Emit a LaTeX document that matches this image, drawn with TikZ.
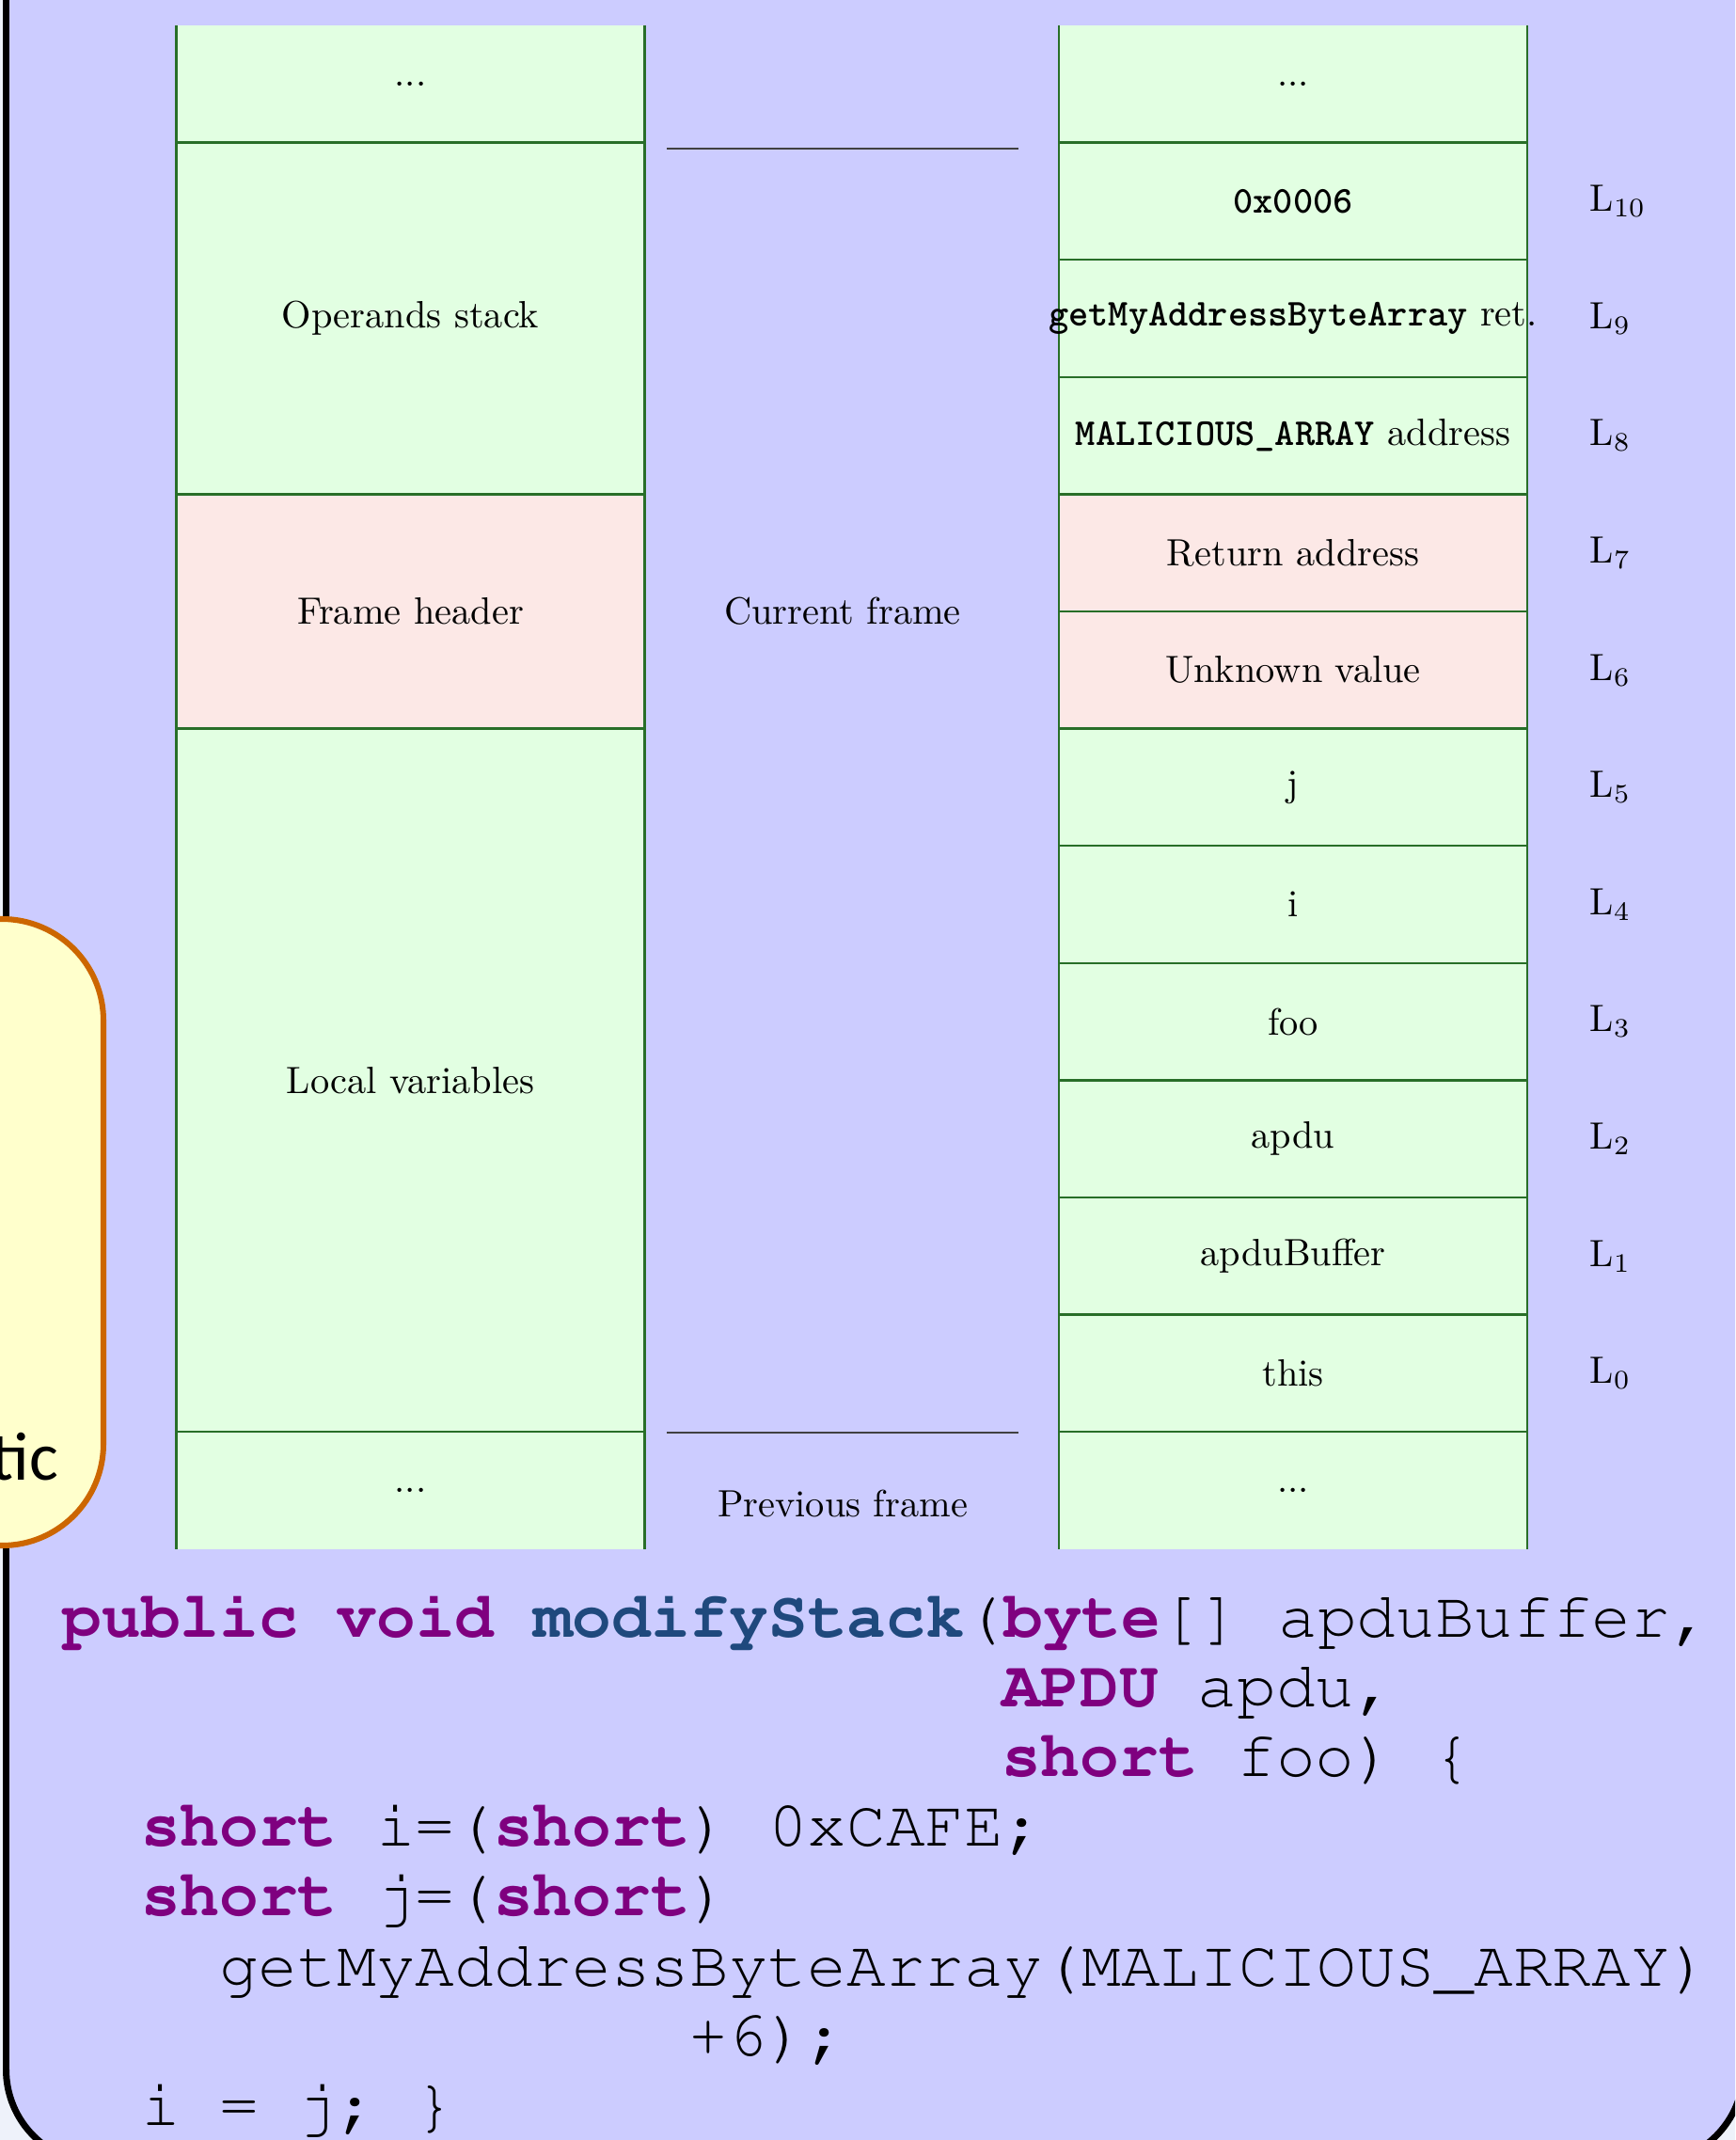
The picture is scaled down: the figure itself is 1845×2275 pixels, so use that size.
\documentclass[tikz,border=0pt]{standalone}
\usepackage[T1,TU]{fontenc}
\usepackage{fontspec}
\newfontfamily\carlitofont{Carlito}
\newcommand\courfont{\fontencoding{T1}\fontfamily{pcr}\fontsize{17.2pt}{18pt}\selectfont}
\newcommand\kwb[1]{{\bfseries\color{kwcol}#1}}
\newcommand\fnb[1]{{\bfseries\color{fncol}#1}}
\newcommand\ttb[1]{{\ttfamily\bfseries #1}}
\definecolor{bgout}{RGB}{238,242,250}
\definecolor{lav}{RGB}{204,204,255}
\definecolor{cellg}{RGB}{226,255,226}
\definecolor{cellr}{RGB}{252,232,230}
\definecolor{celledge}{RGB}{40,110,40}
\definecolor{kwcol}{RGB}{127,0,127}
\definecolor{fncol}{RGB}{31,73,125}
\definecolor{yfill}{RGB}{255,255,204}
\definecolor{obord}{RGB}{204,102,0}
\tikzset{
  cellbase/.style={draw=celledge, line width=0.6pt, minimum width=123.3pt, inner sep=0pt, outer sep=0pt},
  gcell/.style={cellbase, fill=cellg},
  rcell/.style={cellbase, fill=cellr},
  rowh/.style={minimum height=30.84pt},
  opencell/.style={fill=cellg, minimum width=123.3pt, minimum height=30.84pt, inner sep=0pt, outer sep=0pt},
  sideline/.style={draw=celledge, line width=0.6pt},
  lbl/.style={anchor=west, inner sep=0pt},
  sepline/.style={draw=black!75, line width=0.45pt},
  code/.style={anchor=base west, inner sep=0pt, font=\courfont},
}
\begin{document}
\begin{tikzpicture}[x=0.2475pt, y=-0.2475pt]
\useasboundingbox (0,0) rectangle (1845,2275);
\clip (0,0) rectangle (1845,2275);
\fill[bgout] (0,0) rectangle (1845,2275);
% slide frame
\draw[line width=1.73pt, fill=lav, rounded corners=24.75pt] (6.5,-400) rectangle (1854,2300);

% open-ended cells first
\node[opencell] (lt0) at (436.5,89.3) {...};
\node[opencell] (lb) at (436.5,1584.5) {...};
\node[opencell] (rt0) at (1375,89.3) {...};
\node[opencell] (rb) at (1375,1584.5) {...};
\draw[sideline] (lt0.north west) -- (lt0.south west) (lt0.north east) -- (lt0.south east);
\draw[sideline] (lb.north west) -- (lb.south west) (lb.north east) -- (lb.south east);
\draw[sideline] (rt0.north west) -- (rt0.south west) (rt0.north east) -- (rt0.south east);
\draw[sideline] (rb.north west) -- (rb.south west) (rb.north east) -- (rb.south east);

% left column
\node[gcell, minimum height=92.52pt] (ops) at (436.5,338.5) {Operands stack};
\node[rcell, minimum height=61.68pt] (hdr) at (436.5,650) {Frame header};
\node[gcell, minimum height=185.03pt] (loc) at (436.5,1148.4) {Local variables};

% middle
\coordinate (mt1) at (709,158);
\coordinate (mt2) at (1083,158);
\coordinate (mb1) at (709,1523);
\coordinate (mb2) at (1083,1523);
\draw[sepline] (mt1) -- (mt2);
\draw[sepline] (mb1) -- (mb2);
\node (cur) at (896,650) {Current frame};
\node (prev) at (896,1598) {Previous frame};

% right column
\node[gcell, rowh] (r10) at (1375,213.9) {\ttb{0x0006}};
\node[gcell, rowh] (r9) at (1375,338.5) {\makebox[0pt]{\ttb{getMyAddressByteArray} ret.}};
\node[gcell, rowh] (r8) at (1375,463.1) {\ttb{MALICIOUS\_ARRAY} address};
\node[rcell, rowh] (r7) at (1375,587.7) {Return address};
\node[rcell, rowh] (r6) at (1375,712.3) {Unknown value};
\node[gcell, rowh] (r5) at (1375,836.9) {j};
\node[gcell, rowh] (r4) at (1375,961.5) {i};
\node[gcell, rowh] (r3) at (1375,1086.1) {foo};
\node[gcell, rowh] (r2) at (1375,1210.7) {apdu};
\node[gcell, rowh] (r1) at (1375,1335.3) {apduBuffer};
\node[gcell, rowh] (r0) at (1375,1459.9) {this};

% local variable labels
\node[lbl] (l10) at (1690,213.9) {L$_{10}$};
\node[lbl] (l9) at (1690,338.5) {L$_{9}$};
\node[lbl] (l8) at (1690,463.1) {L$_{8}$};
\node[lbl] (l7) at (1690,587.7) {L$_{7}$};
\node[lbl] (l6) at (1690,712.3) {L$_{6}$};
\node[lbl] (l5) at (1690,836.9) {L$_{5}$};
\node[lbl] (l4) at (1690,961.5) {L$_{4}$};
\node[lbl] (l3) at (1690,1086.1) {L$_{3}$};
\node[lbl] (l2) at (1690,1210.7) {L$_{2}$};
\node[lbl] (l1) at (1690,1335.3) {L$_{1}$};
\node[lbl] (l0) at (1690,1459.9) {L$_{0}$};

% yellow callout (partly outside)
\draw[fill=yfill, draw=obord, line width=1.5pt, rounded corners=26.7pt] (-500,977) rectangle (110,1643);
\node[anchor=base east, inner sep=0pt, font=\carlitofont\fontsize{18pt}{21pt}\selectfont] (tic) at (63,1573) {tic};

% code
\node[code] (c1) at (66,1740) {\kwb{public} \kwb{void} \fnb{modifyStack}(\kwb{byte}[] apduBuffer,};
\node[code] (c2) at (1064.4,1814) {\kwb{APDU} apdu,};
\node[code] (c3) at (1064.4,1888) {\kwb{short} foo) \{};
\node[code] (c4) at (149.2,1962) {\kwb{short} i=(\kwb{short}) 0xCAFE;};
\node[code] (c5) at (149.2,2036) {\kwb{short} j=(\kwb{short})};
\node[code] (c6) at (232.4,2111) {getMyAddressByteArray(MALICIOUS\_ARRAY)};
\node[code] (c7) at (731.6,2185) {+6);};
\node[code] (c8) at (149.2,2259) {i = j; \}};
\end{tikzpicture}
\end{document}
